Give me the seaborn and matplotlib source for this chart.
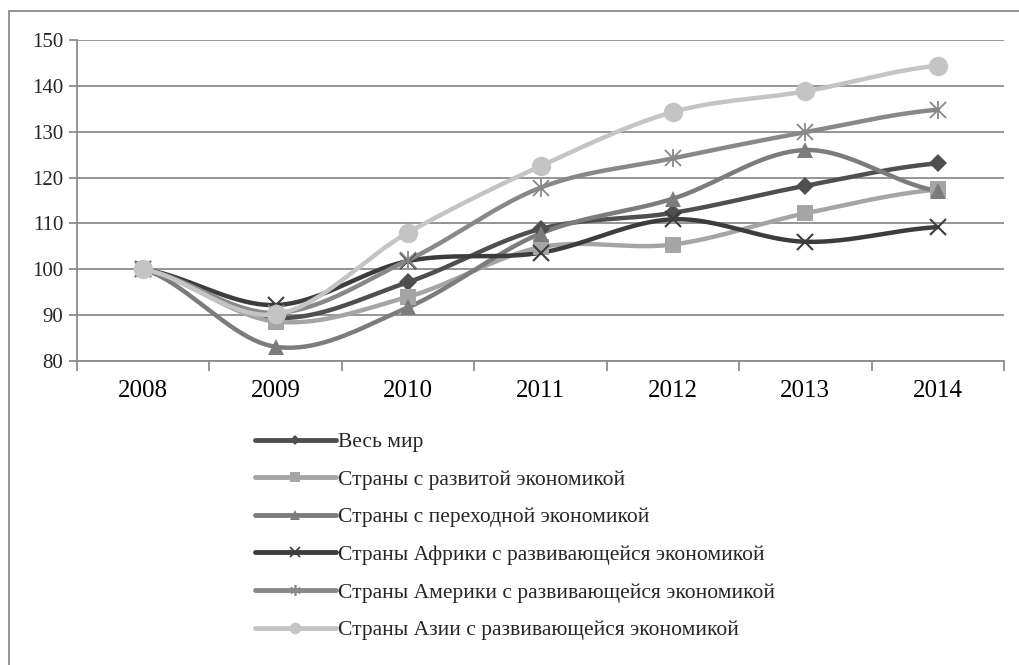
import numpy as np
import pandas as pd
import matplotlib
matplotlib.use("Agg")
import matplotlib.pyplot as plt
import seaborn as sns
from matplotlib.lines import Line2D

years = ["2008", "2009", "2010", "2011", "2012", "2013", "2014"]
series_names = [
    "Весь мир",
    "Страны с развитой экономикой",
    "Страны с переходной экономикой",
    "Страны Африки с развивающейся экономикой",
    "Страны Америки с развивающейся экономикой",
    "Страны Азии с развивающейся экономикой",
]
world = [100, 89.4, 97.2, 108.8, 112.3, 118.2, 123.1]
developed = [100, 88.6, 94.0, 104.8, 105.4, 112.2, 117.4]
transition = [100, 83.1, 91.7, 107.8, 115.4, 126.0, 117.1]
africa = [100, 92.2, 101.8, 103.6, 110.9, 106.0, 109.2]
america = [100, 90.5, 102.0, 117.8, 124.2, 129.9, 134.8]
asia = [100, 90.2, 108.0, 122.5, 134.3, 138.8, 144.4]
values = [world, developed, transition, africa, america, asia]

colors = ["#4f4f4f", "#a5a5a5", "#7c7c7c", "#3c3c3c", "#888888", "#c4c4c4"]
markers = ["D", "s", "^", "x", "asterisk", "o"]
msizes = [9, 11, 12, 12, 13, 14]


def smooth(y, n=40):
    # Catmull-Rom (Excel-like smoothed line) through the data points
    y = np.asarray(y, float)
    x = np.arange(len(y), dtype=float)
    px, py = [], []
    for i in range(len(y) - 1):
        p0 = y[i - 1] if i > 0 else y[i]
        p1, p2 = y[i], y[i + 1]
        p3 = y[i + 2] if i + 2 < len(y) else y[i + 1]
        c1 = p1 + (p2 - p0) / 6.0
        c2 = p2 - (p3 - p1) / 6.0
        t = np.linspace(0, 1, n, endpoint=False)
        b = (1 - t) ** 3 * p1 + 3 * (1 - t) ** 2 * t * c1 + 3 * (1 - t) * t ** 2 * c2 + t ** 3 * p2
        px.extend(x[i] + t)
        py.extend(b)
    px.append(x[-1]); py.append(y[-1])
    return np.array(px), np.array(py)


rows = []
for name, vals in zip(series_names, values):
    sx, sy = smooth(vals)
    for a, b in zip(sx, sy):
        rows.append({"x": a, "y": b, "series": name})
df = pd.DataFrame(rows)

sns.set_theme(style="white")
plt.rcParams["font.family"] = ["Liberation Serif", "DejaVu Serif"]

fig = plt.figure(figsize=(10.19, 6.65), dpi=100)
ax = fig.add_axes([77 / 1019, 1 - 361 / 665, (1004 - 77) / 1019, (361 - 40) / 665])

sns.lineplot(data=df, x="x", y="y", hue="series", palette=dict(zip(series_names, colors)),
             hue_order=series_names, sort=False, estimator=None, linewidth=3.2, ax=ax, legend=False)

xi = np.arange(len(years))
for vals, c, m, ms in zip(values, colors, markers, msizes):
    if m == "asterisk":
        ax.plot(xi, vals, linestyle="none", marker="x", markersize=ms * 0.85, color=c, mew=1.3)
        ax.plot(xi, vals, linestyle="none", marker="|", markersize=ms, color=c, mew=1.3)
    elif m == "x":
        ax.plot(xi, vals, linestyle="none", marker="x", markersize=ms, color=c, mew=1.5)
    else:
        ax.plot(xi, vals, linestyle="none", marker=m, markersize=ms, color=c, mew=0)

ax.set_xlim(-0.5, 6.5)
ax.set_ylim(80, 150)
ax.set_xticks(xi)
ax.set_xticklabels(years, fontsize=18)
ax.set_xticks(np.arange(-0.5, 7.0, 1.0), minor=True)
ax.set_yticks(np.arange(80, 151, 10))
ax.set_yticklabels([str(v) for v in range(80, 151, 10)], fontsize=15)
ax.tick_params(axis="x", which="major", length=0, pad=14, colors="black")
ax.tick_params(axis="x", which="minor", bottom=True, length=7, width=1.3, color="#8c8c8c", direction="out")
ax.tick_params(axis="y", which="major", left=True, length=6, width=1.3, color="#8c8c8c", direction="out", pad=4)
ax.yaxis.grid(True, color="#8c8c8c", linewidth=1.3)
ax.xaxis.grid(False)
ax.set_axisbelow(True)
for s in ["top", "right"]:
    ax.spines[s].set_visible(False)
for s in ["left", "bottom"]:
    ax.spines[s].set_color("#8c8c8c")
    ax.spines[s].set_linewidth(1.3)
ax.set_xlabel("")
ax.set_ylabel("")

handles = []
for c, m, ms in zip(colors, markers, msizes):
    mk = (6, 2, 0) if m == "asterisk" else m
    handles.append(Line2D([0], [0], color=c, linewidth=3.5, marker=mk, markersize=ms * 0.6,
                          markeredgewidth=1.2 if m in ("x", "asterisk") else 0))
fig.legend(handles, series_names, loc="upper left", bbox_to_anchor=(255 / 1019, 1 - 432 / 665),
           frameon=False, fontsize=15.5, handlelength=3.75, handletextpad=0.1,
           labelspacing=0.815, borderpad=0, borderaxespad=0)

# chart-area border (left and top edges visible)
fig.add_artist(Line2D([9 / 1019, 9 / 1019], [0, 1 - 11 / 665], transform=fig.transFigure,
                      color="#8c8c8c", linewidth=1.3))
fig.add_artist(Line2D([9 / 1019, 1.0], [1 - 11 / 665, 1 - 11 / 665], transform=fig.transFigure,
                      color="#8c8c8c", linewidth=1.3))

fig.savefig("out.png", dpi=100)
